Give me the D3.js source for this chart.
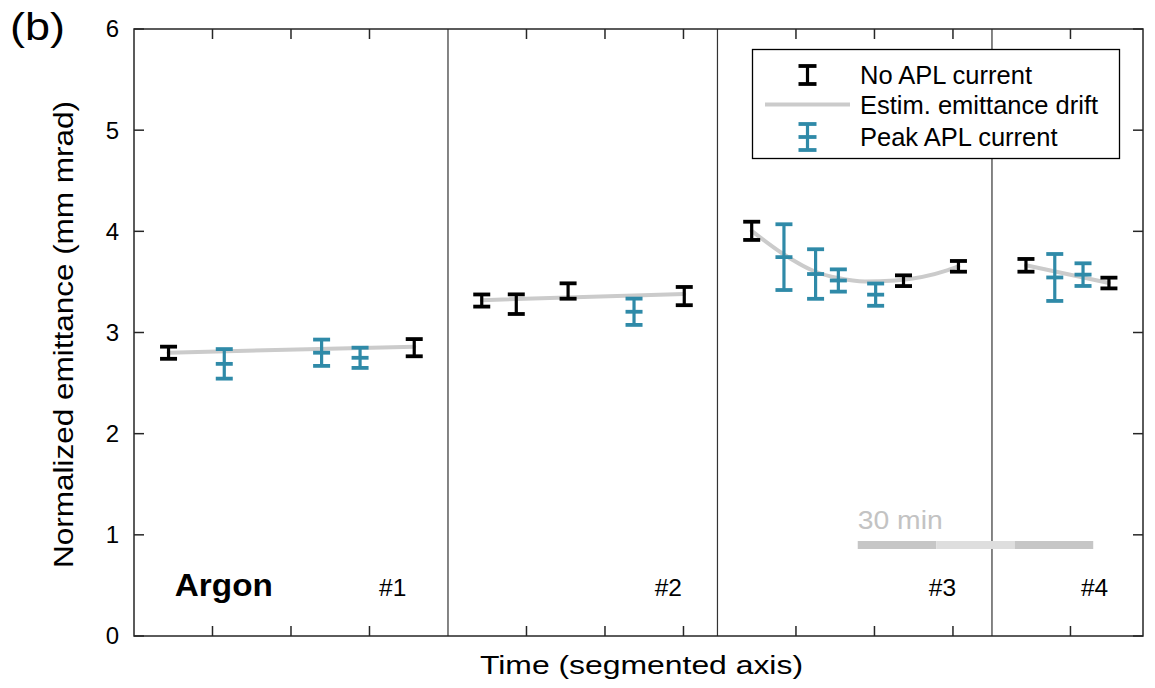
<!DOCTYPE html>
<html><head><meta charset="utf-8">
<script src="https://cdn.jsdelivr.net/npm/d3@7"></script>
<style>
body{margin:0;background:#fff}
svg{display:block}
text{font-family:"Liberation Sans",Arial,Helvetica,sans-serif}
</style>
</head><body>
<svg id="chart" width="1155" height="688"></svg>
<script>
// ---- data ----
const segmentNames = ["#1", "#2", "#3", "#4"];
const segmentDurations = [40, 34.33, 34.97, 19.24];      // minutes
const segmentTicks = [[10, 20, 30], [10, 20, 30], [10, 20, 30], [10]];
const segmentLabelTime = [34.7, 29.8, 30.4, 14.8];       // minutes within segment
const yTicks = [0, 1, 2, 3, 4, 5, 6];

const noAplSegment = [0, 0, 1, 1, 1, 1, 2, 2, 2, 3, 3];
const noAplTime    = [4.4, 35.7, 4.3, 8.7, 15.3, 30.1, 4.36, 23.7, 30.7, 4.33, 14.9];
const noAplValue   = [2.80, 2.85, 3.316, 3.28, 3.41, 3.36, 4.005, 3.512, 3.654, 3.664, 3.489];
const noAplError   = [0.06, 0.085, 0.06, 0.097, 0.076, 0.09, 0.09, 0.053, 0.053, 0.063, 0.053];

const peakSegment = [0, 0, 0, 1, 2, 2, 2, 2, 3, 3];
const peakTime    = [11.5, 23.9, 28.8, 23.7, 8.47, 12.5, 15.4, 20.15, 8.0, 11.6];
const peakValue   = [2.69, 2.80, 2.75, 3.205, 3.745, 3.578, 3.514, 3.374, 3.544, 3.572];
const peakError   = [0.146, 0.13, 0.10, 0.13, 0.325, 0.245, 0.11, 0.11, 0.232, 0.112];

const driftSegment = [0, 0, 1, 1, 2, 2, 2, 2, 2, 2, 2, 2, 3, 3];
const driftTime    = [4.4, 35.7, 4.3, 30.1, 4.36, 8.18, 12.42, 15.35, 18.79, 22.6, 29.36, 30.68, 4.33, 14.9];
const driftValue   = [2.80, 2.86, 3.32, 3.38, 4.005, 3.786, 3.603, 3.538, 3.504, 3.514, 3.617, 3.654, 3.664, 3.49];

const scaleBarStart = 92.2;   // minutes on the segmented axis
const scaleBarLength = 30;    // minutes

const colBlack = "#000000";
const colBlue = "#2f8aa8";
const colDrift = "#cbcbcb";

// ---- layout ----
const svg = d3.select("#chart");
const plot = {left: 134, right: 1143, top: 29, bottom: 636};

const segStart = [];
segmentDurations.reduce((acc, d, i) => { segStart[i] = acc; return acc + d; }, 0);
const total = d3.sum(segmentDurations);

const x = d3.scaleLinear().domain([0, total]).range([plot.left, plot.right]);
const y = d3.scaleLinear().domain([0, 6]).range([plot.bottom, plot.top]);

const gt = (seg, t) => segStart[seg] + t;

// drift lines
const driftData = driftTime.map((t, i) => ({seg: driftSegment[i], t: gt(driftSegment[i], t), v: driftValue[i]}));
const driftLine = d3.line().x(d => x(d.t)).y(d => y(d.v)).curve(d3.curveMonotoneX);
d3.groups(driftData, d => d.seg).forEach(([seg, pts]) => {
  svg.append("path").attr("d", driftLine(pts))
    .attr("fill", "none").attr("stroke", colDrift).attr("stroke-width", 4)
    .attr("stroke-linecap", "round");
});

// segment dividers
segStart.slice(1).forEach(s => {
  svg.append("line").attr("x1", x(s)).attr("x2", x(s))
    .attr("y1", plot.top).attr("y2", plot.bottom)
    .attr("stroke", "#333").attr("stroke-width", 1.2);
});

// error bars
function errorBars(seg, time, val, err, color, mid) {
  const data = time.map((t, i) => ({t: gt(seg[i], t), v: val[i], e: err[i]}));
  const g = svg.append("g").attr("stroke", color).attr("fill", "none");
  const cw = 8.5;
  data.forEach(d => {
    const cx = x(d.t);
    g.append("line").attr("x1", cx).attr("x2", cx).attr("y1", y(d.v - d.e)).attr("y2", y(d.v + d.e)).attr("stroke-width", 3.2);
    const caps = mid ? [d.v + d.e, d.v, d.v - d.e] : [d.v + d.e, d.v - d.e];
    caps.forEach(c => g.append("line").attr("x1", cx - cw).attr("x2", cx + cw)
      .attr("y1", y(c)).attr("y2", y(c)).attr("stroke-width", 3.8));
  });
}
errorBars(noAplSegment, noAplTime, noAplValue, noAplError, colBlack, false);
errorBars(peakSegment, peakTime, peakValue, peakError, colBlue, true);

// axes frame
const axisCol = "#262626";
const frame = svg.append("g").attr("stroke", axisCol).attr("stroke-width", 1.5).attr("fill", "none");
frame.append("rect").attr("x", plot.left).attr("y", plot.top)
  .attr("width", plot.right - plot.left).attr("height", plot.bottom - plot.top);

// y ticks (both sides, inward)
const tl = 10;
yTicks.forEach(v => {
  frame.append("line").attr("x1", plot.left).attr("x2", plot.left + tl).attr("y1", y(v)).attr("y2", y(v));
  frame.append("line").attr("x1", plot.right).attr("x2", plot.right - tl).attr("y1", y(v)).attr("y2", y(v));
  svg.append("text").attr("x", plot.left - 15).attr("y", y(v)).attr("dy", "0.35em")
    .attr("text-anchor", "end").attr("font-size", 24).attr("fill", "#000").text(v);
});

// x ticks (top and bottom, inward)
segmentTicks.forEach((ticks, s) => ticks.forEach(t => {
  const px = x(gt(s, t));
  frame.append("line").attr("x1", px).attr("x2", px).attr("y1", plot.bottom).attr("y2", plot.bottom - tl);
  frame.append("line").attr("x1", px).attr("x2", px).attr("y1", plot.top).attr("y2", plot.top + tl);
}));

// segment labels
segmentNames.forEach((n, s) => {
  svg.append("text").attr("x", x(gt(s, segmentLabelTime[s]))).attr("y", 596)
    .attr("text-anchor", "end").attr("font-size", 24.5).attr("fill", "#000").text(n);
});
svg.append("text").attr("x", x(5.2)).attr("y", 596)
  .attr("font-size", 31).attr("font-weight", "bold").attr("fill", "#000")
  .attr("textLength", 98).attr("lengthAdjust", "spacingAndGlyphs").text("Argon");

// scale bar
const sb0 = x(scaleBarStart), sb1 = x(scaleBarStart + scaleBarLength);
const third = (sb1 - sb0) / 3;
[[0, "#c6c6c6"], [1, "#dedede"], [2, "#c6c6c6"]].forEach(([k, c]) => {
  svg.append("rect").attr("x", sb0 + k * third).attr("y", 541).attr("width", third).attr("height", 8).attr("fill", c);
});
svg.append("text").attr("x", sb0).attr("y", 529).attr("font-size", 25).attr("fill", "#c3c3c3")
  .attr("textLength", 85).attr("lengthAdjust", "spacingAndGlyphs").text("30 min");

// axis labels
svg.append("text").attr("x", (plot.left + plot.right) / 2 + 3).attr("y", 674)
  .attr("text-anchor", "middle").attr("font-size", 25).attr("fill", "#000")
  .attr("textLength", 323).attr("lengthAdjust", "spacingAndGlyphs").text("Time (segmented axis)");
svg.append("text").attr("transform", "translate(73,334.5) rotate(-90)")
  .attr("text-anchor", "middle").attr("font-size", 27).attr("fill", "#000")
  .attr("textLength", 467).attr("lengthAdjust", "spacingAndGlyphs").text("Normalized emittance (mm mrad)");
svg.append("text").attr("x", 10).attr("y", 40).attr("font-size", 38).attr("fill", "#000")
  .attr("textLength", 55).attr("lengthAdjust", "spacingAndGlyphs").text("(b)");

// legend
const lg = svg.append("g");
lg.append("rect").attr("x", 752.5).attr("y", 49.5).attr("width", 367).attr("height", 109)
  .attr("fill", "#fff").attr("stroke", "#000").attr("stroke-width", 1.3);
const symX = 807.5, cw = 9;
// row 1
const r1 = 75;
lg.append("line").attr("x1", symX).attr("x2", symX).attr("y1", r1 - 9).attr("y2", r1 + 9).attr("stroke", colBlack).attr("stroke-width", 3.2);
[r1 - 9, r1 + 9].forEach(yy => lg.append("line").attr("x1", symX - cw).attr("x2", symX + cw).attr("y1", yy).attr("y2", yy).attr("stroke", colBlack).attr("stroke-width", 3.8));
// row 2
const r2 = 104.5;
lg.append("line").attr("x1", 765).attr("x2", 850).attr("y1", r2).attr("y2", r2).attr("stroke", colDrift).attr("stroke-width", 4);
// row 3
const r3 = 137;
lg.append("line").attr("x1", symX).attr("x2", symX).attr("y1", r3 - 13).attr("y2", r3 + 13).attr("stroke", colBlue).attr("stroke-width", 3.2);
[r3 - 13, r3, r3 + 13].forEach(yy => lg.append("line").attr("x1", symX - cw).attr("x2", symX + cw).attr("y1", yy).attr("y2", yy).attr("stroke", colBlue).attr("stroke-width", 3.8));
const legendText = ["No APL current", "Estim. emittance drift", "Peak APL current"];
[r1, r2, r3].forEach((r, i) => {
  lg.append("text").attr("x", 860).attr("y", r + 9).attr("font-size", 25.5).attr("fill", "#000").text(legendText[i]);
});
</script>
</body></html>
